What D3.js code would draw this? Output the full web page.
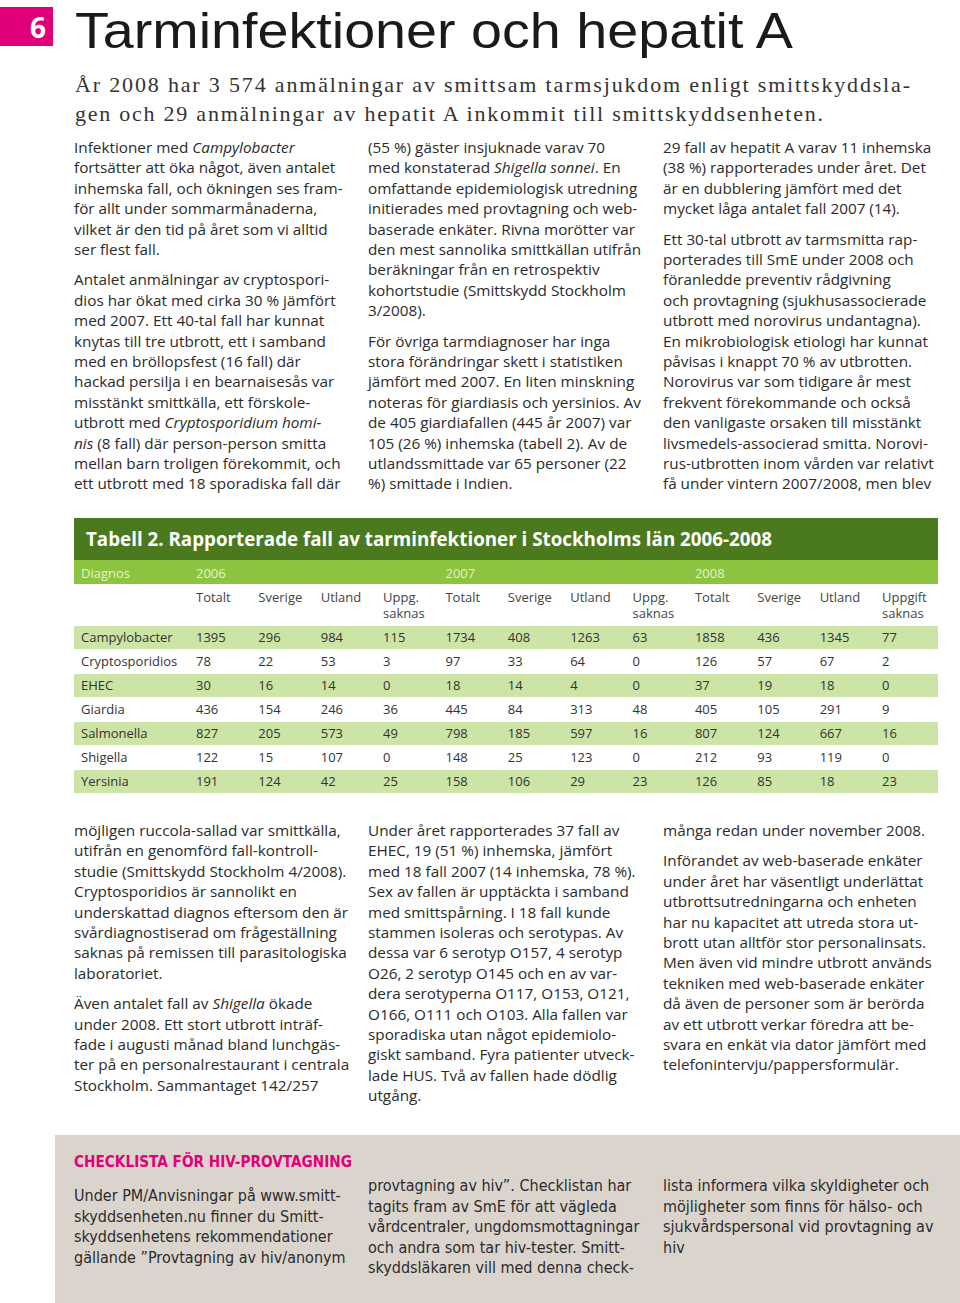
<!DOCTYPE html>
<html>
<head>
<meta charset="utf-8">
<script src="https://cdn.jsdelivr.net/npm/d3@7"></script>
<style>
  body { margin: 0; background: #fff; }
  svg { display: block; }
</style>
</head>
<body>
<svg id="page"></svg>
<script>
// table data
const diagnoses = ["Campylobacter", "Cryptosporidios", "EHEC", "Giardia", "Salmonella", "Shigella", "Yersinia"];
const years = ["2006", "2007", "2008"];
const subHeads = [["Totalt"], ["Sverige"], ["Utland"], ["Uppg.", "saknas"],
                  ["Totalt"], ["Sverige"], ["Utland"], ["Uppg.", "saknas"],
                  ["Totalt"], ["Sverige"], ["Utland"], ["Uppgift", "saknas"]];
const cases2006 = [[1395, 296, 984, 115], [78, 22, 53, 3], [30, 16, 14, 0], [436, 154, 246, 36], [827, 205, 573, 49], [122, 15, 107, 0], [191, 124, 42, 25]];
const cases2007 = [[1734, 408, 1263, 63], [97, 33, 64, 0], [18, 14, 4, 0], [445, 84, 313, 48], [798, 185, 597, 16], [148, 25, 123, 0], [158, 106, 29, 23]];
const cases2008 = [[1858, 436, 1345, 77], [126, 57, 67, 2], [37, 19, 18, 0], [405, 105, 291, 9], [807, 124, 667, 16], [212, 93, 119, 0], [126, 85, 18, 23]];

// text columns (each column = list of paragraphs, each paragraph = lines; *...* = italic)
const topCols = [
  [["Infektioner med *Campylobacter*", "fortsätter att öka något, även antalet", "inhemska fall, och ökningen ses fram-", "för allt under sommarmånaderna,", "vilket är den tid på året som vi alltid", "ser flest fall."],
   ["Antalet anmälningar av cryptospori-", "dios har ökat med cirka 30 % jämfört", "med 2007. Ett 40-tal fall har kunnat", "knytas till tre utbrott, ett i samband", "med en bröllopsfest (16 fall) där", "hackad persilja i en bearnaisesås var", "misstänkt smittkälla, ett förskole-", "utbrott med *Cryptosporidium homi-*", "*nis* (8 fall) där person-person smitta", "mellan barn troligen förekommit, och", "ett utbrott med 18 sporadiska fall där"]],
  [["(55 %) gäster insjuknade varav 70", "med konstaterad *Shigella sonnei*. En", "omfattande epidemiologisk utredning", "initierades med provtagning och web-", "baserade enkäter. Rivna morötter var", "den mest sannolika smittkällan utifrån", "beräkningar från en retrospektiv", "kohortstudie (Smittskydd Stockholm", "3/2008)."],
   ["För övriga tarmdiagnoser har inga", "stora förändringar skett i statistiken", "jämfört med 2007. En liten minskning", "noteras för giardiasis och yersinios. Av", "de 405 giardiafallen (445 år 2007) var", "105 (26 %) inhemska (tabell 2). Av de", "utlandssmittade var 65 personer (22", "%) smittade i Indien."]],
  [["29 fall av hepatit A varav 11 inhemska", "(38 %) rapporterades under året. Det", "är en dubblering jämfört med det", "mycket låga antalet fall 2007 (14)."],
   ["Ett 30-tal utbrott av tarmsmitta rap-", "porterades till SmE under 2008 och", "föranledde preventiv rådgivning", "och provtagning (sjukhusassocierade", "utbrott med norovirus undantagna).", "En mikrobiologisk etiologi har kunnat", "påvisas i knappt 70 % av utbrotten.", "Norovirus var som tidigare år mest", "frekvent förekommande och också", "den vanligaste orsaken till misstänkt", "livsmedels-associerad smitta. Norovi-", "rus-utbrotten inom vården var relativt", "få under vintern 2007/2008, men blev"]]
];
const bottomCols = [
  [["möjligen ruccola-sallad var smittkälla,", "utifrån en genomförd fall-kontroll-", "studie (Smittskydd Stockholm 4/2008).", "Cryptosporidios är sannolikt en", "underskattad diagnos eftersom den är", "svårdiagnostiserad om frågeställning", "saknas på remissen till parasitologiska", "laboratoriet."],
   ["Även antalet fall av *Shigella* ökade", "under 2008. Ett stort utbrott inträf-", "fade i augusti månad bland lunchgäs-", "ter på en personalrestaurant i centrala", "Stockholm. Sammantaget 142/257"]],
  [["Under året rapporterades 37 fall av", "EHEC, 19 (51 %) inhemska, jämfört", "med 18 fall 2007 (14 inhemska, 78 %).", "Sex av fallen är upptäckta i samband", "med smittspårning. I 18 fall kunde", "stammen isoleras och serotypas. Av", "dessa var 6 serotyp O157, 4 serotyp", "O26, 2 serotyp O145 och en av var-", "dera serotyperna O117, O153, O121,", "O166, O111 och O103. Alla fallen var", "sporadiska utan något epidemiolo-", "giskt samband. Fyra patienter utveck-", "lade HUS. Två av fallen hade dödlig", "utgång."]],
  [["många redan under november 2008."],
   ["Införandet av web-baserade enkäter", "under året har väsentligt underlättat", "utbrottsutredningarna och enheten", "har nu kapacitet att utreda stora ut-", "brott utan alltför stor personalinsats.", "Men även vid mindre utbrott används", "tekniken med web-baserade enkäter", "då även de personer som är berörda", "av ett utbrott verkar föredra att be-", "svara en enkät via dator jämfört med", "telefonintervju/pappersformulär."]]
];
const boxCols = [
  ["Under PM/Anvisningar på www.smitt-", "skyddsenheten.nu finner du Smitt-", "skyddsenhetens rekommendationer", "gällande ”Provtagning av hiv/anonym"],
  ["provtagning av hiv”. Checklistan har", "tagits fram av SmE för att vägleda", "vårdcentraler, ungdomsmottagningar", "och andra som tar hiv-tester. Smitt-", "skyddsläkaren vill med denna check-"],
  ["lista informera vilka skyldigheter och", "möjligheter som finns för hälso- och", "sjukvårdspersonal vid provtagning av", "hiv"]
];

const W = 960, H = 1303;
const svg = d3.select("#page").attr("width", W).attr("height", H);
const bodyFont = "'Open Sans', 'Noto Sans', sans-serif";
const narrowFont = "'Liberation Sans Narrow', 'DejaVu Sans Condensed', sans-serif";
const textColor = "#2b2b2b";
const colX = [74, 368, 663];

// header
svg.append("rect").attr("x", 0).attr("y", 7).attr("width", 53).attr("height", 39).attr("fill", "#e2007a");
svg.append("text").attr("x", 38).attr("y", 38).attr("text-anchor", "middle")
  .attr("font-family", "'Open Sans', sans-serif").attr("font-weight", 700).attr("font-size", 28)
  .attr("fill", "#fff").text("6");
svg.append("text").attr("x", 75).attr("y", 48)
  .attr("font-family", "'Liberation Sans Narrow', 'Liberation Sans', sans-serif").attr("font-size", 50).attr("fill", "#1a1a1a")
  .attr("textLength", 718).attr("lengthAdjust", "spacingAndGlyphs")
  .text("Tarminfektioner och hepatit A");

const lead = ["År 2008 har 3 574 anmälningar av smittsam tarmsjukdom enligt smittskyddsla-",
              "gen och 29 anmälningar av hepatit A inkommit till smittskyddsenheten."];
const leadLen = [835, 748];
lead.forEach((t, i) => {
  svg.append("text").attr("x", 75).attr("y", 92 + i * 29)
    .attr("font-family", "'Liberation Serif', 'DejaVu Serif', serif").attr("font-size", 22)
    .attr("fill", "#333").attr("textLength", leadLen[i]).attr("lengthAdjust", "spacing")
    .text(t);
});

// writes one line with *italic* parts
function richLine(g, x, y, str, font, size) {
  const t = g.append("text").attr("x", x).attr("y", y)
    .attr("font-family", font).attr("font-size", size).attr("fill", textColor);
  str.split("*").forEach((part, i) => {
    if (!part) return;
    t.append("tspan").attr("font-style", i % 2 ? "italic" : null).text(part);
  });
}

function textColumns(cols, top) {
  const step = 20.4, gap = 10;
  cols.forEach((paras, c) => {
    let y = top;
    paras.forEach(lines => {
      lines.forEach(l => { richLine(svg, colX[c], y, l, bodyFont, 15.3); y += step; });
      y += gap;
    });
  });
}
textColumns(topCols, 153);
textColumns(bottomCols, 836);

// table
const tx = 74, tw = 864;
const tbl = svg.append("g");
tbl.append("rect").attr("x", tx).attr("y", 518).attr("width", tw).attr("height", 42).attr("fill", "#4b7a1e");
tbl.append("text").attr("x", 86).attr("y", 546)
  .attr("font-family", "'Open Sans', sans-serif").attr("font-weight", 700).attr("font-size", 19)
  .attr("fill", "#fff").attr("textLength", 686).attr("lengthAdjust", "spacingAndGlyphs")
  .text("Tabell 2. Rapporterade fall av tarminfektioner i Stockholms län 2006-2008");
tbl.append("rect").attr("x", tx).attr("y", 560).attr("width", tw).attr("height", 24).attr("fill", "#8cc43f");

const x = d3.scaleLinear().domain([0, 11]).range([196, 882]);
const y = d3.scaleBand().domain(diagnoses).range([626, 794]);
const tFont = "'Open Sans', 'Noto Sans', sans-serif", tSize = 13;

tbl.append("text").attr("x", 81).attr("y", 578).attr("font-family", tFont).attr("font-size", tSize)
  .attr("fill", "#e4f2cf").text("Diagnos");
tbl.selectAll("text.year").data(years).enter().append("text").attr("class", "year")
  .attr("x", (d, i) => x(i * 4)).attr("y", 578)
  .attr("font-family", tFont).attr("font-size", tSize).attr("fill", "#e4f2cf").text(d => d);

subHeads.forEach((lines, i) => {
  lines.forEach((l, j) => {
    tbl.append("text").attr("x", x(i)).attr("y", 602 + j * 16)
      .attr("font-family", tFont).attr("font-size", tSize).attr("fill", "#444").text(l);
  });
});

const rows = diagnoses.map((d, i) => ({ name: d, vals: cases2006[i].concat(cases2007[i], cases2008[i]) }));
const row = tbl.selectAll("g.row").data(rows).enter().append("g").attr("class", "row")
  .attr("transform", d => `translate(0,${y(d.name)})`);
row.append("rect").attr("x", tx).attr("width", tw).attr("height", y.bandwidth() - 1)
  .attr("fill", (d, i) => i % 2 === 0 ? "#cce4a6" : "#fff");
row.append("text").attr("x", 81).attr("y", 16).attr("font-family", tFont).attr("font-size", tSize)
  .attr("fill", "#333").text(d => d.name);
row.selectAll("text.v").data(d => d.vals).enter().append("text").attr("class", "v")
  .attr("x", (d, i) => x(i)).attr("y", 16).attr("font-family", tFont).attr("font-size", tSize)
  .attr("fill", "#333").text(d => d);

// checklist box
svg.append("rect").attr("x", 55).attr("y", 1135).attr("width", W - 55).attr("height", H - 1135).attr("fill", "#dbd4cd");
svg.append("text").attr("x", 74).attr("y", 1167)
  .attr("font-family", narrowFont).attr("font-weight", 700).attr("font-size", 16.5)
  .attr("fill", "#e2007a").attr("textLength", 278).attr("lengthAdjust", "spacingAndGlyphs")
  .text("CHECKLISTA FÖR HIV-PROVTAGNING");
boxCols.forEach((lines, c) => {
  const top = c === 0 ? 1201 : 1191;
  lines.forEach((l, i) => {
    svg.append("text").attr("x", colX[c]).attr("y", top + i * 20.5)
      .attr("font-family", narrowFont).attr("font-size", 16).attr("fill", textColor).text(l);
  });
});
</script>
</body>
</html>
